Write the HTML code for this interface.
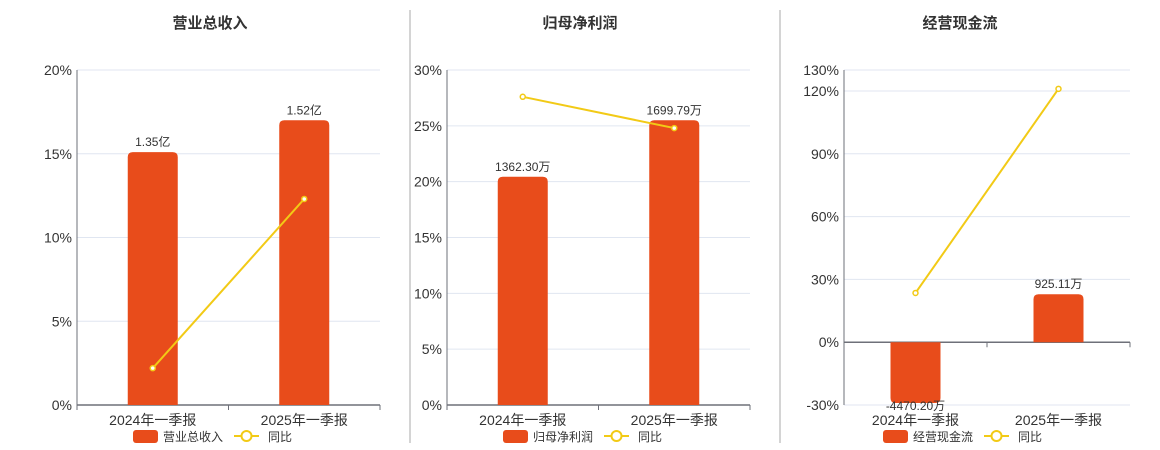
<!DOCTYPE html>
<html><head><meta charset="utf-8"><style>
body{margin:0;background:#fff;width:1160px;height:450px;overflow:hidden}
svg{display:block;font-family:"Liberation Sans","Noto Sans CJK SC",sans-serif}
</style></head><body>
<svg id="c" width="1160" height="450"></svg>
<script>
const categories = ["2024年一季报","2025年一季报"];
const titles = ["营业总收入","归母净利润","经营现金流"];
const revenueValues = [1.35, 1.52];
const revenueLabels = ["1.35亿","1.52亿"];
const revenueYoy = [2.2, 12.3];
const profitValues = [1362.30, 1699.79];
const profitLabels = ["1362.30万","1699.79万"];
const profitYoy = [27.6, 24.8];
const cashValues = [-4470.20, 925.11];
const cashLabels = ["-4470.20万","925.11万"];
const cashYoy = [23.5, 121];
const ticks1 = [0,5,10,15,20];
const ticks2 = [0,5,10,15,20,25,30];
const ticks3 = [-30,0,30,60,90,120,130];

const NS="http://www.w3.org/2000/svg";
const svg=document.getElementById('c');
function el(tag,attrs,parent,text){const e=document.createElementNS(NS,tag);for(const k in attrs)e.setAttribute(k,attrs[k]);if(text!==undefined)e.textContent=text;(parent||svg).appendChild(e);return e;}

const panels=[
 {x0:77,x1:380,tc:210,vals:revenueValues,labels:revenueLabels,yoy:revenueYoy,ticks:ticks1,min:0,max:20,leg:"营业总收入",lx:133},
 {x0:447,x1:750,tc:580,vals:profitValues,labels:profitLabels,yoy:profitYoy,ticks:ticks2,min:0,max:30,leg:"归母净利润",lx:503},
 {x0:844,x1:1130,tc:960,vals:cashValues,labels:cashLabels,yoy:cashYoy,ticks:ticks3,min:-30,max:130,leg:"经营现金流",lx:883,cash:true}
];
const topY=70,botY=405;
panels.forEach((p,pi)=>{
 const g=el('g',{});
 
 
 const t=el('text',{x:p.tc,y:28,'text-anchor':'middle','font-size':15,'font-weight':'bold',fill:'#333'},g,titles[pi]);
 
 
 const y=v=>botY-(v-p.min)/(p.max-p.min)*(botY-topY);
 p.ticks.forEach(tv=>{
  const gl=el('line',{x1:p.x0,x2:p.x1,y1:y(tv),y2:y(tv),stroke:'#e0e6f1'},g);
  
  
  const tl=el('text',{x:p.x0-5,y:y(tv)+5,'text-anchor':'end','font-size':14,fill:'#333'},g,tv+'%');
  
  
 });
 const zero=y(0);
 el('line',{x1:p.x0,x2:p.x0,y1:topY,y2:botY,stroke:'#6e7079'},g);
 el('line',{x1:p.x0,x2:p.x1,y1:zero,y2:zero,stroke:'#6e7079','stroke-width':1.5},g);
 const bw=(p.x1-p.x0)/categories.length;
 for(let i=0;i<=categories.length;i++)el('line',{x1:p.x0+i*bw,x2:p.x0+i*bw,y1:zero,y2:zero+5,stroke:'#6e7079'},g);
 const maxV=Math.max(...p.vals.map(Math.abs));
 let by;
 if(p.cash){const pos=Math.max(...p.vals),neg=Math.min(...p.vals);
  by=v=>v>=0?zero-v/pos*48:zero+v/neg*(botY-zero-2);}
 else by=v=>botY-v/(maxV/0.85)*(botY-topY);
 const pts=[];
 categories.forEach((c,i)=>{
  const cx=p.x0+bw*(i+0.5);
  const v=p.vals[i],yy=by(v);
  const h=Math.abs(yy-zero),ty=Math.min(yy,zero);
  const r=Math.min(5,h/2);
  let d;
  if(v>=0)d=`M${cx-25},${zero}V${ty+r}Q${cx-25},${ty} ${cx-25+r},${ty}H${cx+25-r}Q${cx+25},${ty} ${cx+25},${ty+r}V${zero}Z`;
  else d=`M${cx-25},${zero}V${yy-r}Q${cx-25},${yy} ${cx-25+r},${yy}H${cx+25-r}Q${cx+25},${yy} ${cx+25},${yy-r}V${zero}Z`;
  const b=el('path',{d:d,fill:'#e84c1b'},g);
  
  
  const ly=v>=0?yy-6:yy+7;
  const vl=el('text',{x:cx,y:ly,'text-anchor':'middle','font-size':12,fill:'#333'},g,p.labels[i]);
  
  
  const xl=el('text',{x:cx,y:425,'text-anchor':'middle','font-size':14,fill:'#333'},g,c);
  
  
  pts.push([cx,y(p.yoy[i])]);
 });
 const ln=el('polyline',{points:pts.map(q=>q.join(',')).join(' '),fill:'none',stroke:'#f2ca16','stroke-width':2},g);
 
 
 pts.forEach(q=>{const c=el('circle',{cx:q[0],cy:q[1],r:2.5,fill:'#fff',stroke:'#f2ca16','stroke-width':1.5},g);
  
  });
 const lg=el('g',{},g);
 
 
 el('rect',{x:p.lx,y:430,width:25,height:13,rx:3,fill:'#e84c1b'},lg);
 el('text',{x:p.lx+30,y:441,'font-size':12,fill:'#333'},lg,p.leg);
 const lx2=p.lx+101;
 el('line',{x1:lx2,x2:lx2+25,y1:436,y2:436,stroke:'#f2ca16','stroke-width':2},lg);
 el('circle',{cx:lx2+12.5,cy:436,r:5,fill:'#fff',stroke:'#f2ca16','stroke-width':2},lg);
 el('text',{x:lx2+34,y:441,'font-size':12,fill:'#333'},lg,'同比');
});
[410,780].forEach(x=>{const s=el('line',{x1:x,x2:x,y1:10,y2:443,stroke:'#aaa'});
 
 });
</script>
</body></html>
